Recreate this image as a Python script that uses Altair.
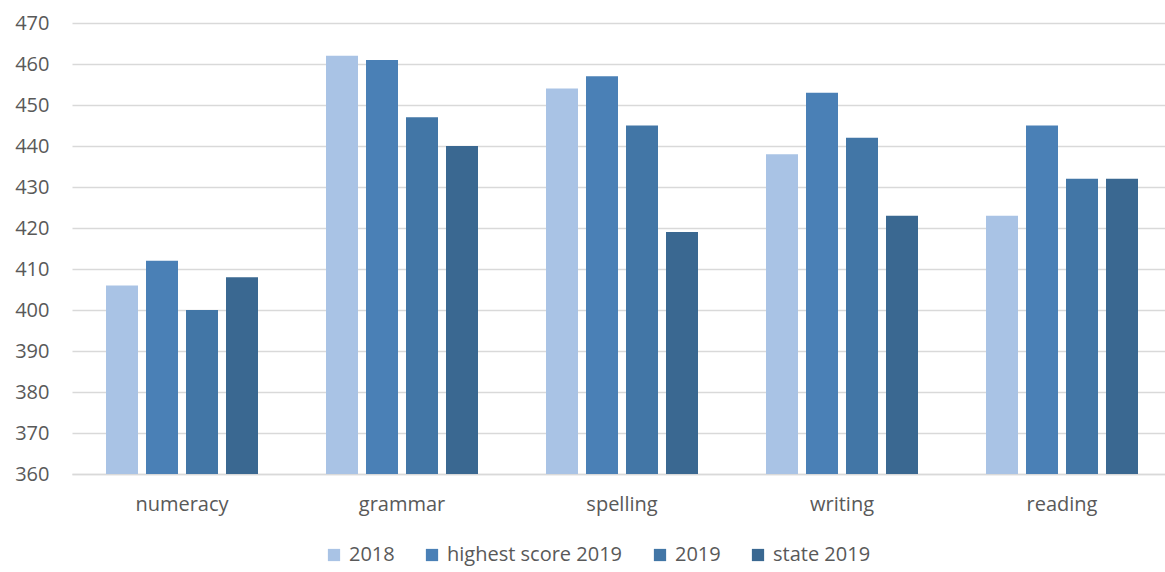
import altair as alt
import pandas as pd

subjects = ["numeracy", "grammar", "spelling", "writing", "reading"]
series = ["2018", "highest score 2019", "2019", "state 2019"]
colors = ["#A9C3E5", "#4A80B6", "#4276A6", "#3A6891"]

scores_2018 = [406, 462, 454, 438, 423]
scores_highest_2019 = [412, 461, 457, 453, 445]
scores_2019 = [400, 447, 445, 442, 432]
scores_state_2019 = [408, 440, 419, 423, 432]

rows = []
for name, vals in zip(series, [scores_2018, scores_highest_2019, scores_2019, scores_state_2019]):
    for subj, v in zip(subjects, vals):
        rows.append({"subject": subj, "series": name, "score": v})
df = pd.DataFrame(rows)

FONT = "Open Sans"
TEXT = "#595959"
GRID = "#D9D9D9"
BASE = 360

chart = (
    alt.Chart(df)
    .mark_bar(size=32)
    .encode(
        x=alt.X(
            "subject:N",
            sort=subjects,
            scale=alt.Scale(paddingInner=0, paddingOuter=0, range=[0, 1100]),
            axis=alt.Axis(
                title=None, labelAngle=0, ticks=False, grid=False, domainColor=GRID,
                domainWidth=1.5, labelFont=FONT, labelFontSize=20, labelColor=TEXT,
                labelPadding=20,
            ),
        ),
        xOffset=alt.XOffset(
            "series:N", sort=series,
            scale=alt.Scale(paddingInner=0.2, paddingOuter=0.85),
        ),
        y=alt.Y(
            "score:Q",
            scale=alt.Scale(domain=[BASE, 470], nice=False, zero=False),
            axis=alt.Axis(
                title=None, values=list(range(360, 471, 10)), domain=False,
                ticks=False, gridColor=GRID, gridWidth=1.5, labelFont=FONT, labelFontSize=20,
                labelColor=TEXT, labelPadding=23,
            ),
        ),
        y2=alt.datum(BASE),
        color=alt.Color(
            "series:N",
            sort=series,
            scale=alt.Scale(domain=series, range=colors),
            legend=alt.Legend(
                title=None, orient="none", direction="horizontal",
                legendX=252, legendY=522, symbolType="square", symbolSize=150,
                symbolStrokeWidth=0, labelFont=FONT, labelFontSize=20, labelColor=TEXT,
                columnPadding=27, labelOffset=5, labelLimit=400,
            ),
        ),
    )
    .properties(width=1093, height=451, autosize="none", background="white",
                padding={"left": 72, "top": 23, "right": 0, "bottom": 98})
    .configure_view(strokeWidth=0)
)

chart.save("out.html", embed_options={"renderer": "svg", "actions": False})
